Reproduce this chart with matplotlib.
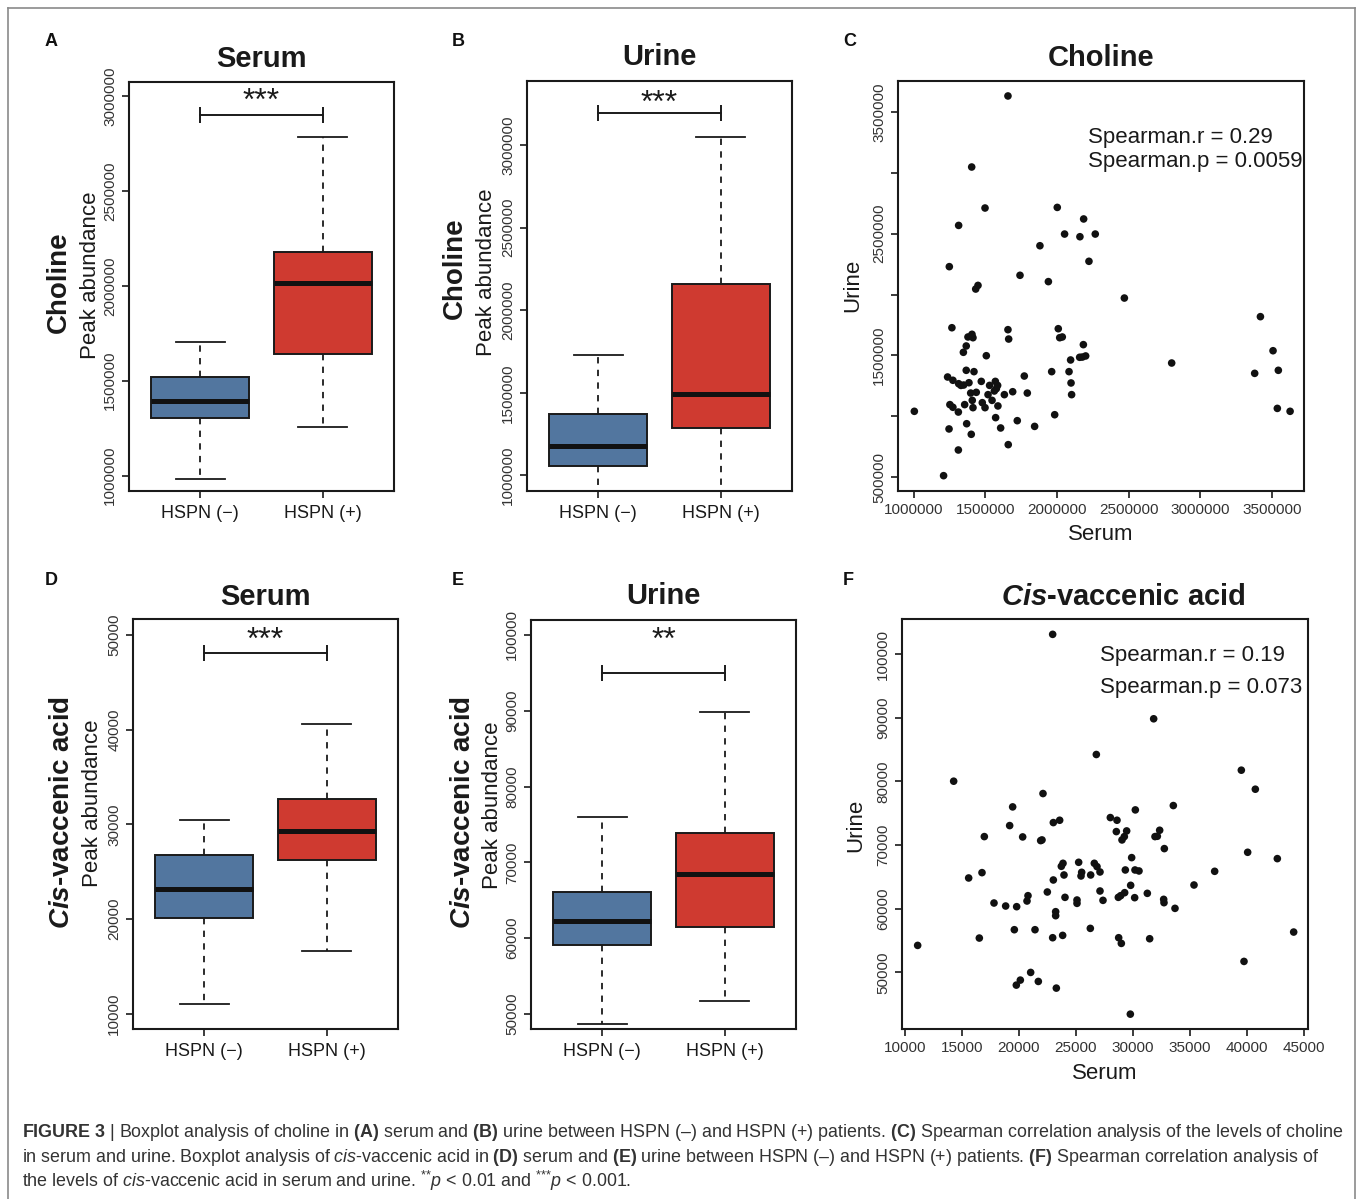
import numpy as np
import matplotlib
matplotlib.use('Agg')
import matplotlib.pyplot as plt
from matplotlib.lines import Line2D
from matplotlib.transforms import offset_copy

plt.rcParams['font.family'] = ['Liberation Sans', 'DejaVu Sans']
plt.rcParams['mathtext.fontset'] = 'custom'
plt.rcParams['mathtext.rm'] = 'Liberation Sans'
plt.rcParams['mathtext.it'] = 'Liberation Sans:italic'
plt.rcParams['mathtext.bf'] = 'Liberation Sans:bold'
plt.rcParams['mathtext.bfit'] = 'Liberation Sans:italic:bold'

# ---- data ----
groups = ['HSPN (\u2212)', 'HSPN (+)']

# box summaries: whislo, q1, median, q3, whishi
serum_choline = [[0.983e6, 1.305e6, 1.392e6, 1.518e6, 1.705e6],
                 [1.258e6, 1.640e6, 2.013e6, 2.176e6, 2.786e6]]
urine_choline = [[0.850e6, 1.055e6, 1.176e6, 1.370e6, 1.727e6],
                 [0.800e6, 1.289e6, 1.491e6, 2.156e6, 3.047e6]]
serum_cva = [[11052, 20125, 23215, 26800, 30422],
             [16677, 26200, 29257, 32673, 40615]]
urine_cva = [[48720, 59140, 62300, 66160, 75970],
             [51660, 61470, 68450, 73860, 89890]]

sig_labels = ['***', '***', '***', '**']
bracket_y = [2.898e6, 3.196e6, 48070, 95030]
star_y = [3.0e6, 3.29e6, 50000, 100000]

# choline scatter (serum, urine)
choline_serum = [1.658, 1.405, 1.498, 1.314, 2.002, 2.186, 2.053, 2.160, 2.267, 1.881,
                 2.223, 1.249, 1.742, 1.940, 1.449, 1.433, 2.470, 3.419, 1.267, 1.658,
                 1.663, 2.009, 2.019, 2.037, 1.407, 1.379, 1.414, 1.367, 1.347, 1.507,
                 2.184, 2.158, 2.177, 2.200, 2.095, 2.800, 3.507, 3.544, 3.379, 3.537,
                 3.626, 1.237, 1.274, 1.314, 1.330, 1.349, 1.386, 1.367, 1.421, 1.472,
                 1.530, 1.570, 1.586, 1.577, 1.563, 1.398, 1.437, 1.519, 1.633, 1.691,
                 1.793, 1.772, 1.963, 2.084, 2.098, 2.102, 1.409, 1.356, 1.479, 1.547,
                 1.498, 1.414, 1.588, 1.253, 1.274, 1.312, 1.005, 1.984, 1.572, 1.723,
                 1.247, 1.370, 1.607, 1.844, 1.402, 1.660, 1.312, 1.209]
choline_urine = [3.632, 3.048, 2.711, 2.568, 2.716, 2.621, 2.497, 2.475, 2.497, 2.401,
                 2.273, 2.229, 2.158, 2.106, 2.075, 2.045, 1.971, 1.818, 1.727, 1.711,
                 1.634, 1.719, 1.645, 1.651, 1.673, 1.651, 1.645, 1.577, 1.525, 1.497,
                 1.588, 1.484, 1.486, 1.495, 1.462, 1.437, 1.538, 1.377, 1.352, 1.064,
                 1.040, 1.322, 1.295, 1.267, 1.253, 1.256, 1.275, 1.377, 1.366, 1.286,
                 1.253, 1.286, 1.253, 1.226, 1.207, 1.190, 1.196, 1.177, 1.177, 1.201,
                 1.190, 1.330, 1.366, 1.366, 1.273, 1.177, 1.130, 1.095, 1.111, 1.130,
                 1.070, 1.070, 1.084, 1.095, 1.073, 1.034, 1.040, 1.012, 0.988, 0.963,
                 0.895, 0.938, 0.903, 0.916, 0.851, 0.766, 0.722, 0.511]
choline_serum = [v * 1e6 for v in choline_serum]
choline_urine = [v * 1e6 for v in choline_urine]

# cis-vaccenic acid scatter (serum, urine)
cva_serum = [22953, 31813, 26784, 14269, 39503, 40731, 22105, 19444, 33538, 30205,
             28012, 28596, 23012, 23567, 19181, 16959, 20322, 21901, 22018, 28538,
             29444, 29240, 29035, 32339, 31930, 32135, 32749, 40058, 42661, 29883,
             37164, 35351, 33684, 44094, 39737, 15585, 16754, 16520, 17807, 18830,
             19795, 19591, 20789, 20702, 21023, 20117, 19766, 21696, 23275, 21404,
             22953, 23830, 23216, 23216, 23012, 22485, 23713, 23860, 23947, 24035,
             25088, 25088, 25234, 25497, 25439, 26287, 26257, 26608, 26842, 27105,
             27105, 27368, 28713, 28918, 29269, 29795, 29327, 30175, 30526, 30146,
             31257, 31462, 28743, 28977, 29766, 32690, 32719, 11111]
cva_urine = [103094, 89827, 84216, 80021, 81751, 78762, 78081, 75983, 76193, 75511,
             74305, 73885, 73518, 73885, 73047, 71316, 71264, 70687, 70792, 72103,
             72208, 71316, 70792, 72313, 71316, 71369, 69429, 68852, 67855, 68013,
             65862, 63712, 60042, 56318, 51704, 64814, 65653, 55374, 60881, 60409,
             60304, 56686, 62034, 61195, 49974, 48768, 47981, 48558, 47509, 56686,
             55427, 55794, 59518, 58888, 64499, 62611, 66649, 67121, 65285, 61772,
             61352, 60828, 67278, 65705, 65128, 65285, 56896, 67121, 66597, 65758,
             62769, 61300, 61772, 62034, 62506, 63660, 66072, 66072, 65915, 61719,
             62401, 55269, 55427, 54535, 43418, 61457, 60933, 54221]

W, H = 1357, 1199
fig = plt.figure(figsize=(W / 100, H / 100), dpi=100)
fig.patch.set_facecolor('white')


def px_rect(l, r, t, b):
    return [l / W, 1 - b / H, (r - l) / W, (b - t) / H]


def ftext(x, y, s, **kw):
    return fig.text(x / W, 1 - y / H, s, **kw)


def style_axes(ax):
    for sp in ax.spines.values():
        sp.set_linewidth(1.5)
        sp.set_color('#1a1a1a')
    ax.tick_params(direction='out', length=5, width=1.2, color='#1a1a1a')


box_colors = ['#52769f', '#cf3a30']

box_panels = [
    dict(stats=serum_choline, rect=(129, 394, 82, 491), ylim=(0.919e6, 3.074e6),
         yticks=[1e6, 1.5e6, 2e6, 2.5e6, 3e6]),
    dict(stats=urine_choline, rect=(527, 792, 81, 491), ylim=(0.905e6, 3.388e6),
         yticks=[1e6, 1.5e6, 2e6, 2.5e6, 3e6]),
    dict(stats=serum_cva, rect=(133, 398, 619, 1029), ylim=(8418, 51656),
         yticks=[10000, 20000, 30000, 40000, 50000]),
    dict(stats=urine_cva, rect=(531, 796, 620, 1029), ylim=(48023, 101977),
         yticks=[50000, 60000, 70000, 80000, 90000, 100000]),
]

for i, p in enumerate(box_panels):
    ax = fig.add_axes(px_rect(*p['rect']))
    bstats = []
    for g, s in zip(groups, p['stats']):
        bstats.append(dict(label=g, whislo=s[0], q1=s[1], med=s[2], q3=s[3],
                           whishi=s[4], fliers=[]))
    bp = ax.bxp(bstats, positions=[1, 2], widths=0.8, capwidths=0.4,
                patch_artist=True, showfliers=False,
                boxprops=dict(linewidth=1.4, edgecolor='#1a1a1a'),
                medianprops=dict(color='#111111', linewidth=3.6, solid_capstyle='butt'),
                whiskerprops=dict(color='#1a1a1a', linewidth=1.3, linestyle=(0, (3.5, 3.5))),
                capprops=dict(color='#1a1a1a', linewidth=1.3))
    for patch, c in zip(bp['boxes'], box_colors):
        patch.set_facecolor(c)
    ax.set_xlim(0.42, 2.58)
    ax.set_ylim(*p['ylim'])
    ax.set_yticks(p['yticks'])
    ax.set_yticklabels(['%d' % t for t in p['yticks']], rotation=90, va='center',
                       fontsize=11, color='#333333')
    ax.set_xticks([1, 2])
    ax.set_xticklabels(groups, fontsize=13, color='#1a1a1a')
    ax.tick_params(axis='x', pad=5)
    style_axes(ax)
    # significance bracket
    ax.plot([1, 2], [bracket_y[i], bracket_y[i]], color='#1a1a1a', lw=1.4)
    ax.plot([1, 2], [bracket_y[i], bracket_y[i]], ls='none', marker='|',
            markersize=11, markeredgewidth=1.4, color='#1a1a1a')
    star_tr = offset_copy(ax.transData, fig=fig, y=-4.5, units='points')
    ax.text(1.5, star_y[i], sig_labels[i], ha='center', va='center',
            fontsize=23, color='#1a1a1a', transform=star_tr)

# scatter panels
scatter_panels = [
    dict(x=choline_serum, y=choline_urine, rect=(898, 1304, 81, 491),
         xlim=(0.891e6, 3.723e6), ylim=(0.385e6, 3.755e6),
         xticks=[1e6, 1.5e6, 2e6, 2.5e6, 3e6, 3.5e6],
         yticks=[0.5e6, 1e6, 1.5e6, 2e6, 2.5e6, 3e6, 3.5e6],
         ylabels=['500000', '', '1500000', '', '2500000', '', '3500000']),
    dict(x=cva_serum, y=cva_urine, rect=(902, 1308, 619, 1029),
         xlim=(9737, 45351), ylim=(41085, 105506),
         xticks=[10000, 15000, 20000, 25000, 30000, 35000, 40000, 45000],
         yticks=[50000, 60000, 70000, 80000, 90000, 100000],
         ylabels=['50000', '60000', '70000', '80000', '90000', '100000']),
]

for p in scatter_panels:
    ax = fig.add_axes(px_rect(*p['rect']))
    ax.scatter(p['x'], p['y'], s=30, color='#111111', edgecolors='none')
    ax.set_xlim(*p['xlim'])
    ax.set_ylim(*p['ylim'])
    ax.set_xticks(p['xticks'])
    ax.set_xticklabels(['%d' % t for t in p['xticks']], fontsize=11, color='#333333')
    ax.set_yticks(p['yticks'])
    ax.set_yticklabels(p['ylabels'], rotation=90, va='center', fontsize=11,
                       color='#333333')
    style_axes(ax)

# titles
ftext(261, 67, 'Serum', ha='center', va='baseline', fontsize=21, fontweight='bold', color='#1a1a1a')
ftext(659, 65, 'Urine', ha='center', va='baseline', fontsize=21, fontweight='bold', color='#1a1a1a')
ftext(1101, 66, 'Choline', ha='center', va='baseline', fontsize=21, fontweight='bold', color='#1a1a1a')
ftext(265, 605, 'Serum', ha='center', va='baseline', fontsize=21, fontweight='bold', color='#1a1a1a')
ftext(663, 604, 'Urine', ha='center', va='baseline', fontsize=21, fontweight='bold', color='#1a1a1a')
ftext(1123, 605, r'$\mathbfit{Cis}$-vaccenic acid', ha='center', va='baseline', fontsize=21,
      fontweight='bold', color='#1a1a1a')

# box y labels
ylab_spec = [(59, 282, 'Choline', 91, 275), (455, 268, 'Choline', 487, 272),
             (62, 812, r'$\mathbfit{Cis}$-vaccenic acid', 92, 803),
             (463, 812, r'$\mathbfit{Cis}$-vaccenic acid', 493, 805)]
for xb, yb, name, xp, yp in ylab_spec:
    ftext(xb, yb, name, ha='center', va='center', rotation=90, fontsize=20,
          fontweight='bold', color='#1a1a1a')
    ftext(xp, yp, 'Peak abundance', ha='center', va='center', rotation=90,
          fontsize=16, color='#1a1a1a')

# scatter axis labels
ftext(853, 285, 'Urine', ha='center', va='center', rotation=90, fontsize=16, color='#1a1a1a')
ftext(1101, 540, 'Serum', ha='center', va='baseline', fontsize=16, color='#1a1a1a')
ftext(856, 825, 'Urine', ha='center', va='center', rotation=90, fontsize=16, color='#1a1a1a')
ftext(1105, 1079, 'Serum', ha='center', va='baseline', fontsize=16, color='#1a1a1a')

# spearman annotations
ftext(1088, 143, 'Spearman.r = 0.29', ha='left', va='baseline', fontsize=16, color='#1a1a1a')
ftext(1088, 167, 'Spearman.p = 0.0059', ha='left', va='baseline', fontsize=16, color='#1a1a1a')
ftext(1100, 661, 'Spearman.r = 0.19', ha='left', va='baseline', fontsize=16, color='#1a1a1a')
ftext(1100, 693, 'Spearman.p = 0.073', ha='left', va='baseline', fontsize=16, color='#1a1a1a')

# panel letters
for lx, ly, letter in [(45, 46, 'A'), (452, 46, 'B'), (843, 46, 'C'),
                       (45, 585, 'D'), (452, 585, 'E'), (843, 585, 'F')]:
    ftext(lx, ly, letter, ha='left', va='baseline', fontsize=13, fontweight='bold', color='#111111')

# outer frame
for xs, ys in [([8, 8], [8, H]), ([8, 1355], [8, 8]), ([1355, 1355], [8, H])]:
    fig.add_artist(Line2D([x / W for x in xs], [1 - y / H for y in ys],
                          color='#8a8a8a', lw=1.2))

# caption
cap_lines = [
    r"$\mathbf{FIGURE\ 3}$ | Boxplot analysis of choline in $\mathbf{(A)}$ serum and $\mathbf{(B)}$ urine between HSPN (–) and HSPN (+) patients. $\mathbf{(C)}$ Spearman correlation analysis of the levels of choline",
    r"in serum and urine. Boxplot analysis of $\mathit{cis}$-vaccenic acid in $\mathbf{(D)}$ serum and $\mathbf{(E)}$ urine between HSPN (–) and HSPN (+) patients. $\mathbf{(F)}$ Spearman correlation analysis of",
    r"the levels of $\mathit{cis}$-vaccenic acid in serum and urine. $^{{*}{*}}\mathit{p}$ < 0.01 and $^{{*}{*}{*}}\mathit{p}$ < 0.001.",
]
cap_y = [1137, 1162, 1187]
probe = fig.text(0, 0, cap_lines[0], fontsize=12)
renderer = fig.canvas.get_renderer()
wpx = probe.get_window_extent(renderer).width
probe.remove()
cap_size = 12 * 1318 / wpx
for s, y in zip(cap_lines, cap_y):
    ftext(22, y, s, ha='left', va='baseline', fontsize=cap_size, color='#333333')

fig.savefig('out.png', dpi=100, facecolor='white')
